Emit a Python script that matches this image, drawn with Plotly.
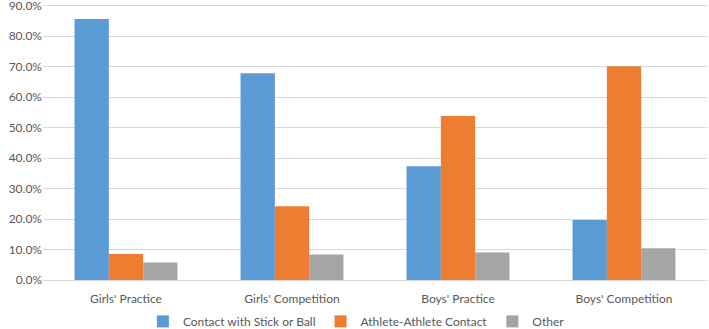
import plotly.graph_objects as go

categories = ["Girls' Practice", "Girls' Competition", "Boys' Practice", "Boys' Competition"]
contact_stick_ball = [0.856, 0.678, 0.373, 0.197]
athlete_contact = [0.085, 0.242, 0.538, 0.701]
other = [0.057, 0.084, 0.090, 0.104]
series_names = ["Contact with Stick or Ball", "Athlete-Athlete Contact", "Other"]
colors = ["#5B9BD5", "#ED7D31", "#A5A5A5"]

fig = go.Figure()
for name, vals, c in zip(series_names, [contact_stick_ball, athlete_contact, other], colors):
    fig.add_trace(go.Bar(name=name, x=categories, y=vals, marker=dict(color=c, line=dict(width=0))))

fig.update_layout(
    width=709, height=329,
    margin=dict(l=43, r=2, t=4, b=49, autoexpand=False),
    paper_bgcolor="white", plot_bgcolor="white",
    barmode="group", bargap=0.38, bargroupgap=0,
    font=dict(family="Lato, 'Open Sans', sans-serif", size=12, color="#595959"),
    showlegend=True,
    legend=dict(orientation="h", x=0.472, xanchor="center", y=-0.15, yanchor="middle",
                font=dict(size=12, color="#595959"), itemwidth=30, traceorder="normal"),
    xaxis=dict(showline=True, linecolor="#D9D9D9", linewidth=1, ticks="", ticklabelstandoff=8,
               automargin=False, tickfont=dict(size=12, color="#595959")),
    yaxis=dict(range=[0, 0.905], tick0=0, dtick=0.1, tickformat=".1%", showgrid=True, gridcolor="#D9D9D9",
               gridwidth=1, zeroline=False, ticks="", ticklabeloverflow="allow", automargin=False,
               tickfont=dict(size=12, color="#595959")),
)

fig.write_html("out.html", config={"displayModeBar": False},
               post_script="document.body.style.margin='0';document.body.style.overflow='hidden';")
